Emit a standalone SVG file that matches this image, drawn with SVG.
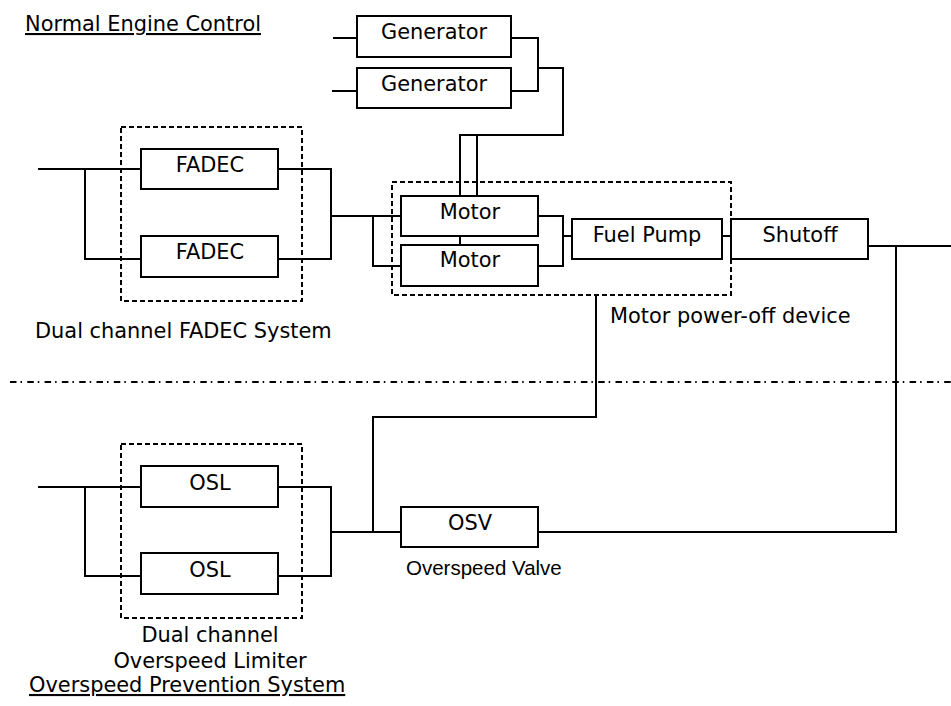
<svg xmlns="http://www.w3.org/2000/svg" width="951" height="706" viewBox="0 0 951 706">
<style>
.box{fill:#fff;stroke:#000;stroke-width:2}
.grp{fill:none;stroke:#000;stroke-width:2;stroke-dasharray:5 3}
.ln{fill:none;stroke:#000;stroke-width:2}
.dd{fill:none;stroke:#000;stroke-width:2;stroke-dasharray:6.5 4 1.5 5.3}
.t{font-family:"DejaVu Sans",Verdana,sans-serif;font-size:20.9px;fill:#000}
.c{text-anchor:middle}
.a{font-family:"Liberation Sans",Arial,sans-serif;font-size:20.5px;fill:#000}
</style>
<rect width="951" height="706" fill="#fff"/>
<g id="connectors">
<path class="ln" d="M38,169H141M85,169V259H141"/>
<path class="ln" d="M278,169H331V259H278M331,216H401"/>
<path class="ln" d="M373,216V266H401"/>
<path class="ln" d="M460,236V245"/>
<path class="ln" d="M333,38H357M332,91H357"/>
<path class="ln" d="M511,38H538V91H511M538,68H563V135H460V196M477,135V196"/>
<path class="ln" d="M538,216H563V266H538M563,236H572"/>
<path class="ln" d="M722,236H731"/>
<path class="ln" d="M868,246H951M896,246V533"/>
<path class="ln" d="M596,295V417H373V532"/>
<path class="ln" d="M38,487H141M85,487V576H141"/>
<path class="ln" d="M278,487H331V576H278M331,532H401"/>
<path class="ln" d="M538,532H896"/>
<path class="dd" d="M10,382H951"/>
</g>
<g id="title-normal"><text class="t" x="25" y="31" text-decoration="underline">Normal Engine Control</text></g>
<g id="gen1"><rect class="box" x="357" y="16" width="154" height="41"/><text class="t c" x="434" y="39">Generator</text></g>
<g id="gen2"><rect class="box" x="357" y="68" width="154" height="40"/><text class="t c" x="434" y="91">Generator</text></g>
<g id="fadec-system"><rect class="grp" x="121" y="127" width="181" height="174"/><text class="t" x="35" y="338">Dual channel FADEC System</text></g>
<g id="fadec1"><rect class="box" x="141" y="149" width="137" height="40"/><text class="t c" x="210" y="172">FADEC</text></g>
<g id="fadec2"><rect class="box" x="141" y="236" width="137" height="41"/><text class="t c" x="210" y="259">FADEC</text></g>
<g id="motor-poweroff"><rect class="grp" x="392" y="182" width="339" height="113"/><text class="t" x="610" y="323">Motor power-off device</text></g>
<g id="motor1"><rect class="box" x="401" y="196" width="137" height="40"/><text class="t c" x="470" y="219">Motor</text></g>
<g id="motor2"><rect class="box" x="401" y="245" width="137" height="41"/><text class="t c" x="470" y="267">Motor</text></g>
<g id="fuelpump"><rect class="box" x="572" y="219" width="150" height="40"/><text class="t c" x="647" y="242">Fuel Pump</text></g>
<g id="shutoff"><rect class="box" x="731" y="219" width="137" height="40"/><text class="t c" x="800" y="242">Shutoff</text></g>
<g id="osl-system"><rect class="grp" x="121" y="444" width="181" height="174"/><text class="t c" x="210" y="642">Dual channel</text><text class="t c" x="210" y="668">Overspeed Limiter</text></g>
<g id="osl1"><rect class="box" x="141" y="466" width="137" height="41"/><text class="t c" x="210" y="490">OSL</text></g>
<g id="osl2"><rect class="box" x="141" y="553" width="137" height="41"/><text class="t c" x="210" y="577">OSL</text></g>
<g id="osv"><rect class="box" x="401" y="507" width="137" height="40"/><text class="t c" x="470" y="530">OSV</text><text class="a" x="406" y="575">Overspeed Valve</text></g>
<g id="title-overspeed"><text class="t" x="29" y="692" text-decoration="underline">Overspeed Prevention System</text></g>
</svg>
